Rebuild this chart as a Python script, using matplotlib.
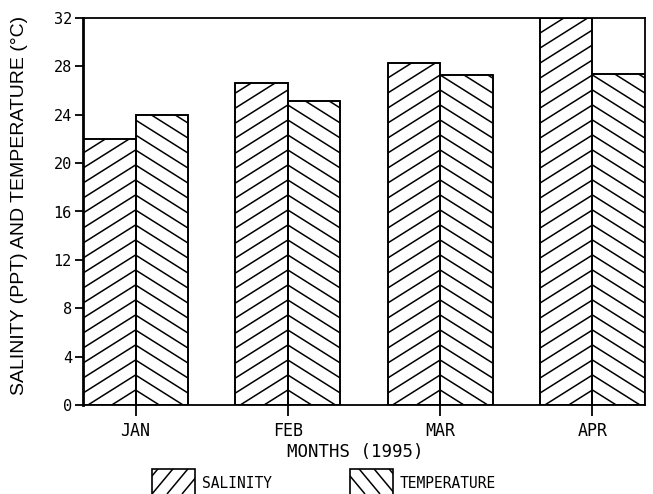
import numpy as np
import matplotlib
matplotlib.use("Agg")
import matplotlib.pyplot as plt
from matplotlib.collections import LineCollection
from matplotlib.patches import Rectangle

months = ["JAN", "FEB", "MAR", "APR"]
salinity = [22.0, 26.6, 28.3, 32.0]
temperature = [24.0, 25.1, 27.3, 27.4]
yticks = [0, 4, 8, 12, 16, 20, 24, 28, 32]

mono = "DejaVu Sans Mono"

fig = plt.figure(figsize=(6.53, 4.94), dpi=100)
ax = fig.add_axes([83 / 653, 89 / 494, 562 / 653, 387 / 494])

w = 0.345
x = np.arange(len(months))
sal_bars = ax.bar(x - w / 2, salinity, w, color="white", edgecolor="black", linewidth=1.2, zorder=2)
tmp_bars = ax.bar(x + w / 2, temperature, w, color="white", edgecolor="black", linewidth=1.2, zorder=2)
ax.set_xlim(-w, len(months) - 1 + w)
ax.set_ylim(0, 32)

# slanted hatch lines (about 32 deg), chevrons meeting at the divider
p0 = ax.transData.transform((0, 0))
p1 = ax.transData.transform((1, 1))
px_x, px_y = p1 - p0
m = 0.63 * px_x / px_y
dy = 15 / px_y

def hatch(bar, xd, h, sign):
    n = int((h + m * w) / dy) + 2
    segs = []
    for k in range(n):
        yk = k * dy
        if sign > 0:
            segs.append([(xd - w, yk - m * w), (xd, yk)])
        else:
            segs.append([(xd, yk), (xd + w, yk - m * w)])
    lc = LineCollection(segs, colors="black", linewidths=1.1, zorder=3)
    ax.add_collection(lc)
    lc.set_clip_path(bar)

for i in range(len(months)):
    hatch(sal_bars[i], x[i], salinity[i], 1)
    hatch(tmp_bars[i], x[i], temperature[i], -1)

for b in list(sal_bars) + list(tmp_bars):
    ax.add_patch(Rectangle(b.get_xy(), b.get_width(), b.get_height(), fill=False,
                           edgecolor="black", linewidth=1.2, zorder=4))

for s in ax.spines.values():
    s.set_linewidth(1.3)
ax.spines["left"].set_linewidth(2)

ax.set_yticks(yticks)
ax.set_yticklabels([str(t) for t in yticks], fontfamily=mono, fontsize=11)
ax.set_xticks(x)
ax.set_xticklabels(months, fontfamily=mono, fontsize=12)
ax.tick_params(axis="y", direction="out", length=6, width=1.3, pad=2)
ax.tick_params(axis="x", direction="inout", length=16, width=1.3, pad=4)

fig.text(355 / 653, (494 - 452) / 494, "MONTHS (1995)", fontfamily=mono, fontsize=12.5,
         ha="center", va="center")
fig.text(20 / 653, (494 - 205) / 494, "SALINITY (PPT) AND TEMPERATURE (°C)",
         fontfamily="Liberation Sans", fontsize=14, rotation=90, ha="center", va="center")

# legend, drawn in figure pixels
W, H = 653, 494
for x0, sign, label in [(152, 1, "SALINITY"), (350, -1, "TEMPERATURE")]:
    box = Rectangle((x0 / W, -0.02), 43 / W, 0.02 + 25 / H, transform=fig.transFigure,
                    facecolor="white", edgecolor="black", linewidth=1.2)
    fig.add_artist(box)
    segs = []
    for k in range(-3, 6):
        c = x0 + 15 * k
        if sign > 0:
            segs.append([(c / W, 0), ((c + 30) / W, 36 / H)])
        else:
            segs.append([(c / W, 36 / H), ((c + 30) / W, 0)])
    lc = LineCollection(segs, colors="black", linewidths=1.1, transform=fig.transFigure)
    fig.add_artist(lc)
    lc.set_clip_path(box)
    fig.text((x0 + 50) / W, (H - 483) / H, label, fontfamily=mono, fontsize=10.5,
             ha="left", va="center")

fig.savefig("out.png", dpi=100)
